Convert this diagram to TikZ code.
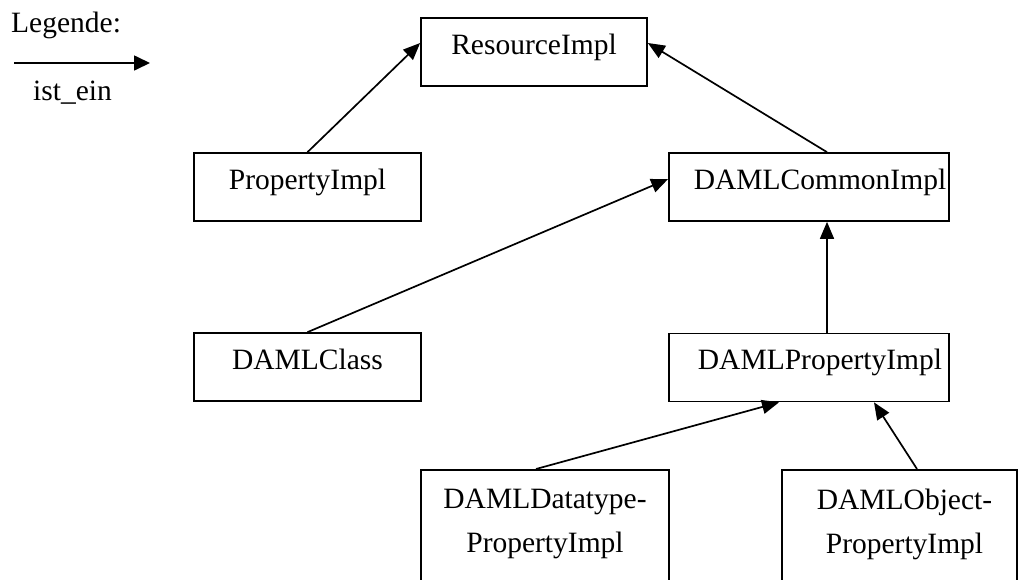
\documentclass[tikz,border=0pt]{standalone}
\usepackage{fontspec}
\setmainfont{Liberation Serif}
\usetikzlibrary{arrows.meta,calc}
\begin{document}
\begin{tikzpicture}[x=1pt,y=-1pt,
  font=\fontsize{29.5}{44}\selectfont,
  classbox/.style={draw,line width=1.7pt,inner sep=0pt,minimum height=68pt,
                   text height=0.7em,text depth=0.3em},
  plain/.style={inner sep=0pt},
  isa/.style={line width=1.7pt,-{Triangle[length=17pt,width=14pt]}}]

\useasboundingbox (0,0) rectangle (1019,579);
\clip (0,0) rectangle (1019,579);

% legend
\node[plain,anchor=base west] (legend) at (11,32) {Legende:};
\coordinate (keyA) at (14,63);
\coordinate (keyB) at (150,63);
\draw[isa,-{Triangle[length=16pt,width=15pt]}] (keyA) -- (keyB);
\node[plain,anchor=base west] (keytext) at (33,100) {ist\_ein};

% classes
\node[classbox,minimum width=226pt] (res) at (534,52) {ResourceImpl};
\node[classbox,minimum width=227pt] (prop) at (307.5,187) {PropertyImpl};
\node[classbox,minimum width=280pt] (common) at (809,187) {\hspace*{22pt}DAMLCommonImpl};
\node[classbox,minimum width=227pt] (dclass) at (307.5,367) {DAMLClass};
\node[classbox,minimum width=280pt] (dprop) at (809,367.5) {\hspace*{22pt}DAMLPropertyImpl};
\node[classbox,minimum width=248pt,minimum height=160pt,anchor=north] (dtype) at (545,469) {};
\node[classbox,minimum width=235pt,minimum height=160pt,anchor=north] (dobj) at (899.5,469) {};
\node[plain,anchor=north,align=center] (dtypetext) at ($(dtype.north)+(0,20)$) {DAMLDatatype-\\PropertyImpl};
\node[plain,anchor=north,align=center] (dobjtext) at ($(dobj.north)+(5,20)$) {DAMLObject-\\PropertyImpl};

% inheritance
\draw[isa] (prop.north) -- ($(res.west)+(0,-9)$);
\draw[isa] ($(common.north)+(18,0)$) -- ($(res.east)+(0,-9)$);
\draw[isa] (dclass.north) -- ($(common.west)+(0,-8)$);
\draw[isa] ($(dprop.north)+(18,0)$) -- ($(common.south)+(18,0)$);
\draw[isa] ($(dtype.north)+(-9,0)$) -- ($(dprop.south)+(-30,0)$);
\draw[isa] ($(dobj.north)+(17.5,0)$) -- ($(dprop.south)+(65,0)$);
\end{tikzpicture}
\end{document}
